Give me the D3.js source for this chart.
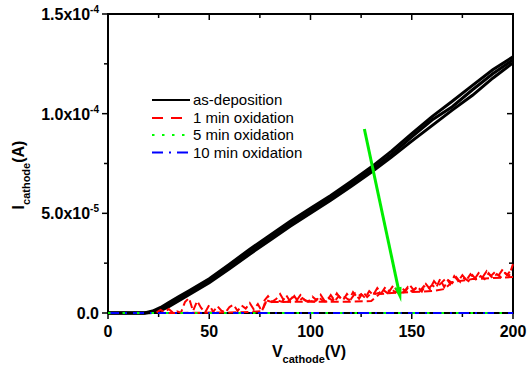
<!DOCTYPE html>
<html>
<head>
<meta charset="utf-8">
<script src="https://cdn.jsdelivr.net/npm/d3@7/dist/d3.min.js"></script>
<style>
  body { margin: 0; background: #fff; }
  svg { display: block; }
  text { font-family: "Liberation Sans", Arial, sans-serif; }
</style>
</head>
<body>
<svg id="chart"></svg>
<script>
// currents are in µA, voltages in V

// as-deposition: three overlapping sweeps
const blackV    = [0, 10, 18, 22, 26, 30, 35, 40, 50, 60, 70, 80, 90, 100, 110, 120, 130, 140, 150, 160, 170, 180, 190, 200];
const blackUp   = [0, 0, 0, 1.0, 2.8, 5.2, 8.2, 11.2, 17.2, 24.5, 32.0, 39.0, 46.0, 52.5, 59.0, 66.0, 73.2, 81.2, 90.0, 98.5, 106.2, 114.2, 122.0, 128.5];
const blackDown = [0, 0, 0, 0.2, 1.2, 3.2, 6.2, 9.2, 15.2, 22.2, 29.5, 36.5, 43.5, 50.0, 56.6, 63.5, 70.6, 78.2, 86.2, 94.0, 101.8, 109.2, 117.8, 125.5];
const blackMid  = [0, 0, 0, 0.5, 2.0, 4.2, 7.2, 10.2, 16.2, 23.2, 30.6, 37.6, 44.6, 51.2, 57.8, 64.8, 71.8, 79.5, 88.4, 96.8, 103.5, 112.0, 120.0, 127.0];

// 1 min oxidation: two noisy forward sweeps and a return sweep
const redUpV = [24, 26, 28, 30, 32, 34, 36, 38, 40, 42, 44, 46, 48, 50, 52, 54, 56, 58, 60, 62, 64, 66, 68, 70, 72, 74, 76, 78,
  80, 82, 84, 86, 88, 90, 92, 94, 96, 98, 100, 102, 104, 106, 108, 110, 112, 114, 116, 118, 120, 122, 124, 126, 128, 130,
  132, 134, 136, 138, 140, 142, 144, 146, 148, 150, 152, 154, 156, 158, 160, 162, 164, 166, 168, 170, 172, 174, 176, 178,
  180, 182, 184, 186, 188, 190, 192, 194, 196, 198, 200];
const redUpI = [0.3, 1.5, 0.4, 2.0, 0.2, 0.8, 0.1, 5.5, 7.5, 1.0, 6.0, 2.5, 0.3, 4.0, 0.6, 3.5, 1.2, 0.2, 3.0, 4.2, 1.0, 3.8, 2.2, 5.0, 1.8, 4.5, 0.8, 6.5,
  5.8, 5.5, 6.2, 5.6, 9.0, 5.7, 8.5, 5.6, 7.5, 5.9, 6.0, 5.7, 8.0, 6.2, 5.8, 9.0, 6.0, 8.5, 6.3, 9.5, 7.0, 9.8, 7.2, 10.5, 8.0, 10.0,
  9.5, 10.2, 11.5, 10.0, 12.0, 10.3, 11.8, 10.5, 13.0, 10.8, 12.5, 11.0, 13.5, 12.0, 14.0, 12.5, 17.0, 13.0, 16.5, 15.0, 18.0, 15.5, 17.5, 16.0,
  19.0, 16.5, 18.5, 17.0, 20.0, 17.5, 19.5, 18.0, 20.0, 18.5, 24.5];
const redUp2V = [77, 79, 81, 83, 85, 87, 89, 91, 93, 95, 97, 99, 101, 103, 105, 107, 109, 111, 113, 115, 117, 119, 121, 123, 125, 127, 129,
  131, 133, 135, 137, 139, 141, 143, 145, 147, 149, 151, 153, 155, 157, 159, 161, 163, 165, 167, 169, 171, 173, 175, 177, 179,
  181, 183, 185, 187, 189, 191, 193, 195, 197, 199];
const redUp2I = [6.0, 8.5, 5.6, 7.0, 9.5, 6.0, 5.7, 7.8, 6.1, 9.0, 6.5, 5.8, 8.2, 6.4, 9.2, 6.0, 7.5, 6.2, 9.8, 7.0, 8.0, 6.5, 10.5, 8.0, 9.5, 7.5, 11.0,
  9.0, 12.5, 10.0, 13.0, 11.0, 14.0, 10.5, 12.5, 11.0, 14.0, 11.5, 13.0, 10.8, 14.5, 12.0, 16.0, 13.5, 15.5, 17.5, 14.5, 18.5, 16.0, 19.0, 16.5, 19.5,
  17.0, 20.0, 18.0, 21.0, 18.5, 20.5, 19.0, 22.0, 19.0, 21.5];
const redDownV = [200, 190, 180, 170, 166, 160, 150, 140, 134, 130, 120, 110, 100, 90, 80, 78, 76, 70, 60, 50, 40, 30];
const redDownI = [18.0, 17.5, 17.0, 15.5, 12.0, 11.0, 10.5, 10.0, 9.5, 6.0, 5.7, 5.6, 5.6, 5.6, 5.5, 5.4, 1.0, 0.5, 0.3, 0.2, 0.1, 0];

// 5 min and 10 min oxidation stay at zero
const flatV = [0, 20, 40, 60, 80, 100, 120, 140, 160, 180, 200];
const greenI = [0, 0, 0, 0, 0, 0, 0, 0, 0, 0, 0];
const blueI  = [0, 0, 0, 0, 0, 0, 0, 0, 0, 0, 0];

// arrow annotation (start, end)
const arrowV = [126.6, 144.8];
const arrowI = [92.3, 5.5];

const xTicks = [0, 50, 100, 150, 200];
const xMinor = [25, 75, 125, 175];
const yTicks = [0, 50, 100, 150];
const yMinor = [25, 75, 125];
const yTickBase = ['0.0', '5.0x10', '1.0x10', '1.5x10'];
const yTickExp  = ['', '-5', '-4', '-4'];

const legendNames = ['as-deposition', '1 min oxidation', '5 min oxidation', '10 min oxidation'];
const legendColors = ['#000000', '#ff0000', '#00ff00', '#0000ff'];
const legendDash = [null, '11,8', '2.5,7.5', '11,6,2,6'];

const W = 527, H = 378;
const plotL = 108, plotR = 513, plotT = 14, plotB = 313;

const x = d3.scaleLinear().domain([0, 200]).range([plotL, plotR]);
const y = d3.scaleLinear().domain([0, 150]).range([plotB, plotT]);

const svg = d3.select('#chart').attr('width', W).attr('height', H);

const line = d3.line().x(d => x(d[0])).y(d => y(d[1]));
const pairs = (vs, is) => vs.map((v, i) => [v, is[i]]);

// frame
svg.append('rect')
  .attr('x', plotL).attr('y', plotT)
  .attr('width', plotR - plotL).attr('height', plotB - plotT)
  .attr('fill', 'none').attr('stroke', '#000').attr('stroke-width', 2);

// ticks: outward on left/bottom, inward on top/right
const tickG = svg.append('g').attr('stroke', '#000').attr('stroke-width', 1.5);
const addX = (vals, len) => vals.forEach(v => {
  tickG.append('line').attr('x1', x(v)).attr('x2', x(v)).attr('y1', plotB).attr('y2', plotB + len);
  tickG.append('line').attr('x1', x(v)).attr('x2', x(v)).attr('y1', plotT).attr('y2', plotT + len);
});
const addY = (vals, len) => vals.forEach(v => {
  tickG.append('line').attr('x1', plotL - len).attr('x2', plotL).attr('y1', y(v)).attr('y2', y(v));
  tickG.append('line').attr('x1', plotR - len).attr('x2', plotR).attr('y1', y(v)).attr('y2', y(v));
});
addX(xTicks, 6); addX(xMinor, 4);
addY(yTicks, 6); addY(yMinor, 4);

// tick labels
svg.append('g').selectAll('text').data(xTicks).join('text')
  .attr('x', d => x(d)).attr('y', plotB + 24)
  .attr('text-anchor', 'middle')
  .attr('font-size', 16).attr('font-weight', 'bold')
  .text(d => d);

yTicks.forEach((v, i) => {
  const t = svg.append('text')
    .attr('x', 99).attr('y', y(v) + 6)
    .attr('text-anchor', 'end')
    .attr('font-size', 16).attr('font-weight', 'bold');
  t.append('tspan').text(yTickBase[i]);
  if (yTickExp[i]) t.append('tspan').attr('font-size', 10).attr('dy', -7).text(yTickExp[i]);
});

// axis titles
const xt = svg.append('text').attr('x', 309).attr('y', 357)
  .attr('text-anchor', 'middle').attr('font-size', 16).attr('font-weight', 'bold');
xt.append('tspan').text('V');
xt.append('tspan').attr('font-size', 11).attr('dy', 6).text('cathode');
xt.append('tspan').attr('dy', -6).text('(V)');

const yt = svg.append('text').attr('transform', 'translate(24,175) rotate(-90)')
  .attr('text-anchor', 'middle').attr('font-size', 16).attr('font-weight', 'bold');
yt.append('tspan').text('I');
yt.append('tspan').attr('font-size', 11).attr('dy', 6).text('cathode');
yt.append('tspan').attr('dy', -6).text('(A)');

// data
const plot = svg.append('g').attr('fill', 'none');
[blackUp, blackMid, blackDown].forEach(arr => {
  plot.append('path').datum(pairs(blackV, arr))
    .attr('stroke', '#000').attr('stroke-width', 3).attr('d', line);
});
[[redUpV, redUpI], [redUp2V, redUp2I], [redDownV, redDownI]].forEach(([vs, is]) => {
  plot.append('path').datum(pairs(vs, is))
    .attr('stroke', '#ff0000').attr('stroke-width', 2).attr('stroke-dasharray', '8,4').attr('d', line);
});
plot.append('path').datum(pairs(flatV, blueI))
  .attr('stroke', '#0000ff').attr('stroke-width', 2).attr('stroke-dasharray', '11,6,2,6').attr('d', line);
plot.append('path').datum(pairs(flatV, greenI))
  .attr('stroke', '#00ff00').attr('stroke-width', 2).attr('stroke-dasharray', '2.5,12').attr('d', line);

// arrow
const p0 = [x(arrowV[0]), y(arrowI[0])], p1 = [x(arrowV[1]), y(arrowI[1])];
const len = Math.hypot(p1[0] - p0[0], p1[1] - p0[1]);
const ux = (p1[0] - p0[0]) / len, uy = (p1[1] - p0[1]) / len;
const headL = 15, headW = 3.5;
const base = [p1[0] - ux * headL, p1[1] - uy * headL];
plot.append('line')
  .attr('x1', p0[0]).attr('y1', p0[1]).attr('x2', base[0] + ux * 2).attr('y2', base[1] + uy * 2)
  .attr('stroke', '#00ee00').attr('stroke-width', 3);
svg.append('polygon')
  .attr('points', [p1, [base[0] - uy * headW, base[1] + ux * headW], [base[0] + uy * headW, base[1] - ux * headW]].map(p => p.join(',')).join(' '))
  .attr('fill', '#00ee00');

// legend
const lg = svg.append('g');
const rowY = [100, 118, 135, 152.5];
legendNames.forEach((name, i) => {
  const l = lg.append('line').attr('x1', 152).attr('x2', 190).attr('y1', rowY[i]).attr('y2', rowY[i])
    .attr('stroke', legendColors[i]).attr('stroke-width', 2);
  if (legendDash[i]) l.attr('stroke-dasharray', legendDash[i]);
  lg.append('text').attr('x', 193).attr('y', rowY[i] + 5).attr('font-size', 15).text(name);
});
</script>
</body>
</html>
